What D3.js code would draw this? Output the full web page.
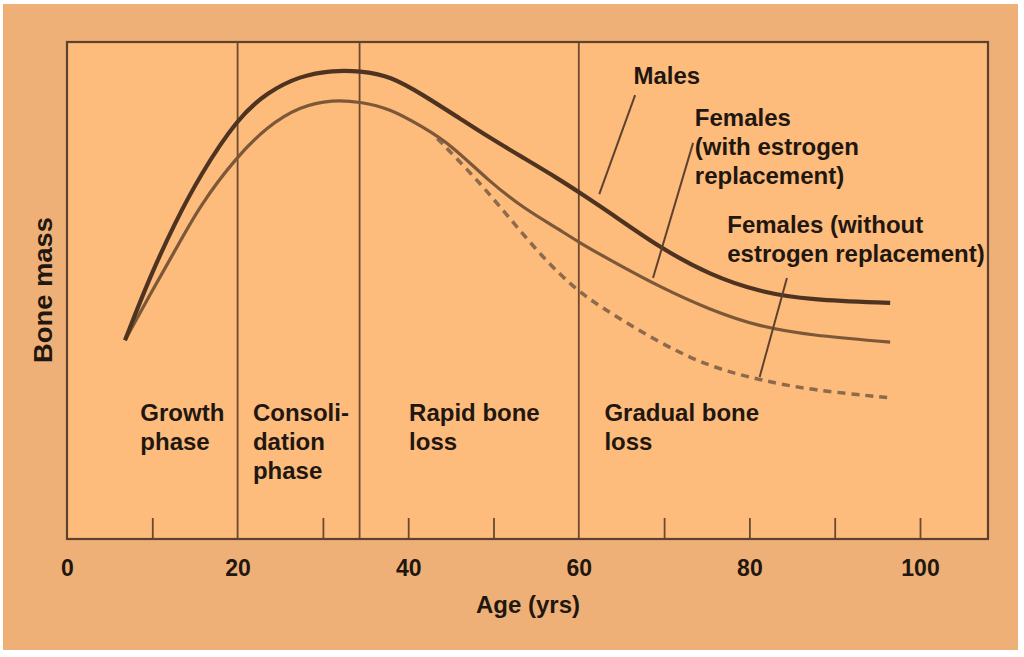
<!DOCTYPE html>
<html>
<head>
<meta charset="utf-8">
<script src="https://cdn.jsdelivr.net/npm/d3@7"></script>
<style>
  html, body { margin: 0; padding: 0; background: #ffffff; }
  svg { display: block; }
  text { font-family: "Liberation Sans", Arial, Helvetica, sans-serif; font-weight: bold; fill: #1f1710; }
</style>
</head>
<body>
<svg id="chart" width="1024" height="657"></svg>
<script>
// ---- Data (age in years, bone mass in arbitrary units 0-100) ----
const maleAges   = [6.8, 9.7, 12.7, 15.6, 20.0, 23.5, 27.3, 31.2, 34.3, 37.9, 41.8, 45.8, 49.6, 53.5, 57.5, 60.0, 63.7, 69.5, 75.4, 81.2, 87.1, 96.5];
const maleMass   = [40.0, 52.7, 63.8, 73.2, 84.7, 89.9, 93.2, 94.3, 94.2, 93.2, 89.3, 84.9, 80.7, 76.7, 72.6, 69.8, 65.6, 58.6, 53.1, 49.7, 48.1, 47.5];

const femWithAges = [6.8, 9.7, 12.7, 15.6, 19.9, 23.4, 27.3, 31.2, 34.3, 37.9, 41.7, 44.9, 49.6, 53.5, 57.4, 59.9, 63.7, 69.5, 75.4, 81.2, 87.1, 96.5];
const femWithMass = [40.0, 49.1, 58.1, 67.2, 76.9, 82.9, 87.1, 88.4, 88.0, 86.6, 82.9, 79.5, 71.8, 66.6, 62.6, 59.8, 56.1, 50.7, 46.1, 42.7, 41.0, 39.6];

const femWithoutAges = [43.4, 47.6, 51.6, 55.5, 59.9, 63.7, 69.5, 75.4, 81.2, 87.1, 96.5];
const femWithoutMass = [80.6, 73.2, 65.2, 57.1, 49.7, 45.5, 39.4, 34.6, 32.0, 30.0, 28.4];

const tickLabels  = [0, 20, 40, 60, 80, 100];
const minorTicks  = [10, 30, 40, 50, 70, 80, 90, 100];
const phaseBounds = [20, 34.3, 60];

const phaseLabels = [
  { age: 8.6,  lines: ["Growth", "phase"] },
  { age: 21.8, lines: ["Consoli-", "dation", "phase"] },
  { age: 40.1, lines: ["Rapid bone", "loss"] },
  { age: 63.0, lines: ["Gradual bone", "loss"] }
];
const seriesLabels = [
  { age: 66.4, mass: 91.5, lines: ["Males"] },
  { age: 73.6, mass: 83.1, lines: ["Females", "(with estrogen", "replacement)"] },
  { age: 77.4, mass: 61.6, lines: ["Females (without", "estrogen replacement)"] }
];
const leaders = [
  { from: [66.6, 89.3], to: [62.4, 69.4] },
  { from: [73.4, 79.7], to: [68.7, 52.5] },
  { from: [84.4, 52.5], to: [81.2, 32.6] }
];

// ---- Layout ----
const svg = d3.select("#chart");
const W = 1024, H = 657;
const frame = { left: 67, top: 42, right: 988, bottom: 539 };

const x = d3.scaleLinear().domain([0, 100]).range([frame.left, frame.left + 853]);
const y = d3.scaleLinear().domain([0, 100]).range([frame.bottom, frame.top]);

// outer background
svg.append("rect").attr("x", 3).attr("y", 4).attr("width", W - 9).attr("height", H - 11)
  .attr("fill", "#eeb077");
// plot background
svg.append("rect").attr("x", frame.left).attr("y", frame.top)
  .attr("width", frame.right - frame.left).attr("height", frame.bottom - frame.top)
  .attr("fill", "#fdbb7c");

// phase boundary lines
svg.append("g").selectAll("line").data(phaseBounds).join("line")
  .attr("x1", d => x(d)).attr("x2", d => x(d))
  .attr("y1", frame.top).attr("y2", frame.bottom)
  .attr("stroke", "#6a4a30").attr("stroke-width", 1.8);

// minor ticks (pointing up from the bottom frame)
const minorAxis = d3.axisTop(x).tickValues(minorTicks).tickSize(21).tickFormat("");
const gMinor = svg.append("g").attr("transform", `translate(0,${frame.bottom})`).call(minorAxis);
gMinor.select(".domain").remove();
gMinor.selectAll(".tick line").attr("stroke", "#6a4a30").attr("stroke-width", 1.8);

// tick labels
const labelAxis = d3.axisBottom(x).tickValues(tickLabels).tickSize(0).tickPadding(0).tickFormat(d3.format("d"));
const gLab = svg.append("g").attr("transform", `translate(0,${frame.bottom})`).call(labelAxis);
gLab.select(".domain").remove();
gLab.selectAll(".tick text")
  .attr("y", 37).attr("dy", null)
  .style("font-family", '"Liberation Sans", Arial, sans-serif')
  .style("font-weight", "bold").style("font-size", "23px").attr("fill", "#1f1710");

// frame
svg.append("rect").attr("x", frame.left).attr("y", frame.top)
  .attr("width", frame.right - frame.left).attr("height", frame.bottom - frame.top)
  .attr("fill", "none").attr("stroke", "#5e4230").attr("stroke-width", 2.2);

// curves
const line = d3.line().x(d => x(d[0])).y(d => y(d[1])).curve(d3.curveBasis);
const zip = (a, b) => a.map((v, i) => [v, b[i]]);

svg.append("path").datum(zip(femWithoutAges, femWithoutMass)).attr("d", line)
  .attr("fill", "none").attr("stroke", "#8d6a4b").attr("stroke-width", 3.5)
  .attr("stroke-dasharray", "8,6");
svg.append("path").datum(zip(femWithAges, femWithMass)).attr("d", line)
  .attr("fill", "none").attr("stroke", "#7c5838").attr("stroke-width", 3.2);
svg.append("path").datum(zip(maleAges, maleMass)).attr("d", line)
  .attr("fill", "none").attr("stroke", "#4e3420").attr("stroke-width", 4.2);

// leader lines
svg.append("g").selectAll("line").data(leaders).join("line")
  .attr("x1", d => x(d.from[0])).attr("y1", d => y(d.from[1]))
  .attr("x2", d => x(d.to[0])).attr("y2", d => y(d.to[1]))
  .attr("stroke", "#5e4230").attr("stroke-width", 2);

// series labels
const sl = svg.append("g").selectAll("text").data(seriesLabels).join("text")
  .attr("x", d => x(d.age)).attr("y", d => y(d.mass))
  .style("font-size", "24px");
sl.selectAll("tspan").data(d => d.lines.map(t => ({ t, a: d.age }))).join("tspan")
  .attr("x", d => x(d.a)).attr("dy", (d, i) => i === 0 ? 0 : 28.8)
  .text(d => d.t);

// phase labels
const pl = svg.append("g").selectAll("text").data(phaseLabels).join("text")
  .attr("x", d => x(d.age)).attr("y", 421)
  .style("font-size", "24px");
pl.selectAll("tspan").data(d => d.lines.map(t => ({ t, a: d.age }))).join("tspan")
  .attr("x", d => x(d.a)).attr("dy", (d, i) => i === 0 ? 0 : 29)
  .text(d => d.t);

// axis titles
svg.append("text").attr("x", 528).attr("y", 613).attr("text-anchor", "middle")
  .style("font-size", "24px").text("Age (yrs)");
svg.append("text").attr("transform", "translate(52,290) rotate(-90)")
  .attr("text-anchor", "middle").style("font-size", "25px")
  .attr("textLength", 146).attr("lengthAdjust", "spacingAndGlyphs")
  .text("Bone mass");
</script>
</body>
</html>
